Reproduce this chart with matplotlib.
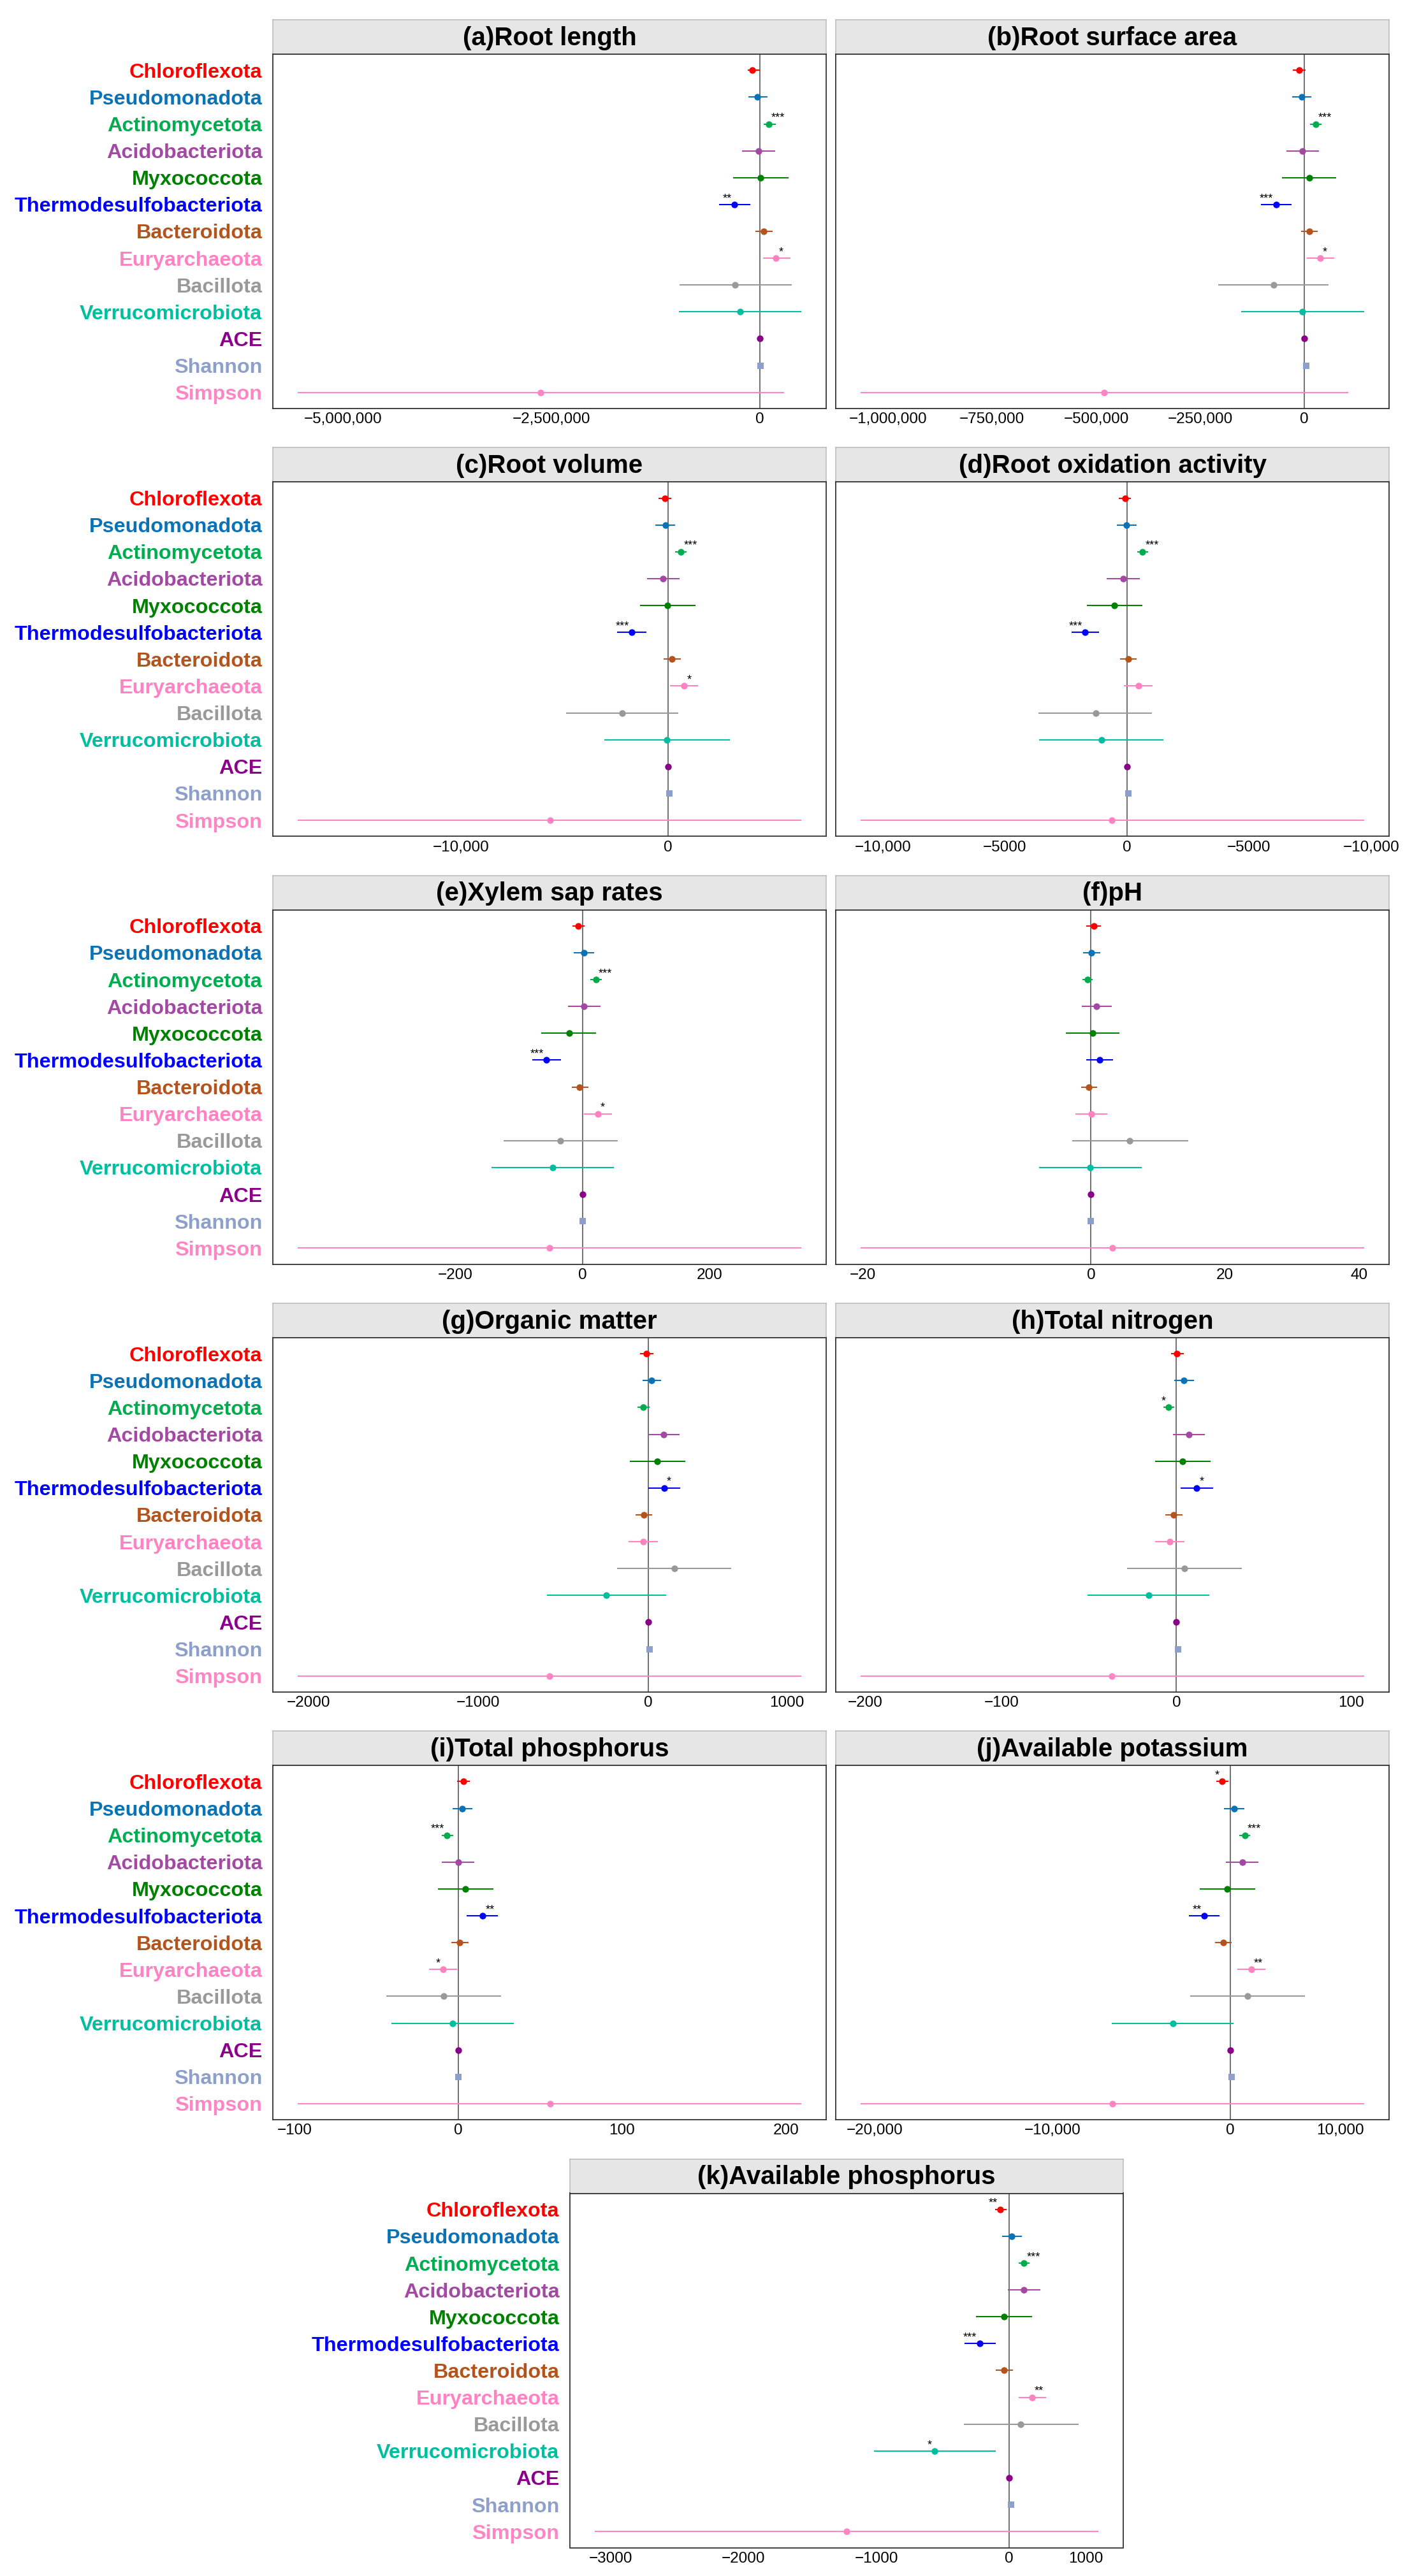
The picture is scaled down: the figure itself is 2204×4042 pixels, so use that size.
import matplotlib
matplotlib.use("Agg")
import matplotlib.pyplot as plt
from matplotlib import font_manager

# row order, top to bottom
taxa = ["Chloroflexota", "Pseudomonadota", "Actinomycetota", "Acidobacteriota",
        "Myxococcota", "Thermodesulfobacteriota", "Bacteroidota", "Euryarchaeota",
        "Bacillota", "Verrucomicrobiota", "ACE", "Shannon", "Simpson"]
taxa_colors = ["#FF0000", "#0A72B5", "#00AD4E", "#A349A4", "#008000", "#0000FF",
               "#B4531C", "#FF82C3", "#999999", "#00BE9E", "#8B008B", "#8DA0CB", "#FF85C5"]

# (a) Root length
rl_est = [-0.089e6, -0.025e6, 0.108e6, -0.013e6, 0.013e6, -0.300e6, 0.051e6, 0.197e6, -0.293e6, -0.236e6, 0.0, 0.010e6, -2.63e6]
rl_lo = [-0.140e6, -0.134e6, 0.051e6, -0.210e6, -0.318e6, -0.484e6, -0.051e6, 0.038e6, -0.962e6, -0.968e6, 0.0, 0.005e6, -5.54e6]
rl_hi = [0.0, 0.096e6, 0.191e6, 0.185e6, 0.344e6, -0.115e6, 0.153e6, 0.369e6, 0.382e6, 0.497e6, 0.0, 0.015e6, 0.293e6]
rl_sig = ["", "", "***", "", "", "**", "", "*", "", "", "", "", ""]

# (b) Root surface area
rsa_est = [-12e3, -7e3, 27e3, -5e3, 12e3, -68e3, 12e3, 38e3, -74e3, -5e3, 0, 4e3, -481e3]
rsa_lo = [-27e3, -30e3, 13e3, -43e3, -54e3, -104e3, -8e3, 6e3, -207e3, -151e3, 0, 3e3, -1065e3]
rsa_hi = [3e3, 16e3, 41e3, 35e3, 77e3, -31e3, 32e3, 71e3, 58e3, 143e3, 0, 5e3, 105e3]
rsa_sig = ["", "", "***", "", "", "***", "", "*", "", "", "", "", ""]

# (c) Root volume
rv_est = [-160, -120, 630, -230, -20, -1750, 190, 780, -2220, -50, 0, 70, -5710]
rv_lo = [-450, -610, 360, -1000, -1350, -2450, -210, 100, -4930, -3070, 0, 50, -17900]
rv_hi = [160, 360, 900, 570, 1340, -1040, 610, 1460, 500, 2990, 0, 90, 6440]
rv_sig = ["", "", "***", "", "", "***", "", "*", "", "", "", "", ""]

# (d) Root oxidation activity
roa_est = [-90, -20, 640, -150, -520, -1720, 60, 470, -1290, -1050, 0, 50, -620]
roa_lo = [-350, -420, 420, -830, -1650, -2270, -290, -120, -3620, -3590, 0, 30, -10900]
roa_hi = [170, 390, 860, 530, 620, -1140, 390, 1050, 1030, 1500, 0, 70, 9700]
roa_sig = ["", "", "***", "", "", "***", "", "", "", "", "", "", ""]

# (e) Xylem sap rates
xs_est = [-6.8, 2.3, 21.5, 2.8, -20.9, -56.5, -4.5, 24.3, -34.5, -46.9, 0, 0.6, -51.4]
xs_lo = [-15.8, -13.6, 13.0, -22.6, -64.4, -79.1, -16.9, 2.8, -123.7, -142.9, 0, 0.3, -447.5]
xs_hi = [3.4, 18.1, 30.5, 28.8, 22.0, -33.3, 9.0, 46.9, 55.4, 49.7, 0, 0.9, 344.1]
xs_sig = ["", "", "***", "", "", "***", "", "*", "", "", "", "", ""]

# (f) pH
ph_est = [0.4, 0.05, -0.5, 0.8, 0.3, 1.3, -0.3, 0.05, 5.8, -0.1, 0, 0, 3.2]
ph_lo = [-0.7, -1.2, -1.3, -1.4, -3.7, -0.7, -1.5, -2.3, -2.8, -7.7, 0, -0.05, -34.3]
ph_hi = [1.5, 1.4, 0.3, 3.1, 4.2, 3.3, 0.9, 2.4, 14.5, 7.6, 0, 0.05, 40.7]
ph_sig = [""] * 13

# (g) Organic matter
om_est = [-11, 21, -28, 91, 55, 95, -25, -30, 155, -246, 0, 10, -580]
om_lo = [-49, -34, -62, 0, -108, 2, -74, -114, -182, -596, 0, 8, -2064]
om_hi = [32, 78, 11, 186, 220, 190, 25, 57, 492, 106, 0, 12, 902]
om_sig = ["", "", "", "", "", "*", "", "", "", "", "", "", ""]

# (h) Total nitrogen
tn_est = [0.2, 4.2, -4.4, 7.0, 3.6, 11.6, -1.5, -3.8, 4.7, -15.9, 0, 0.8, -36.8]
tn_lo = [-3.2, -1.3, -7.6, -2.1, -12.3, 2.5, -6.3, -12.1, -28.1, -50.7, 0, 0.6, -180.5]
tn_hi = [4.2, 10.0, -1.1, 16.3, 19.7, 20.9, 3.4, 4.7, 37.4, 19.0, 0, 1.0, 107.3]
tn_sig = ["", "", "*", "", "", "*", "", "", "", "", "", "", ""]

# (i) Total phosphorus
tp_est = [3.3, 2.4, -6.8, 0, 4.4, 14.9, 0.9, -9.2, -9.0, -3.5, 0, 0, 55.9]
tp_lo = [-0.7, -3.5, -10.1, -9.9, -12.5, 5.3, -4.4, -18.0, -43.9, -40.8, 0, -0.2, -97.8]
tp_hi = [7.2, 8.6, -3.1, 9.9, 21.3, 24.3, 6.1, -0.7, 26.3, 33.8, 0, 0.2, 209.2]
tp_sig = ["", "", "***", "", "", "**", "", "*", "", "", "", "", ""]

# (j) Available potassium
ak_est = [-456, 228, 830, 685, -166, -1452, -394, 1183, 975, -3216, 0, 104, -6619]
ak_lo = [-788, -332, 519, -249, -1722, -2324, -851, 415, -2241, -6640, 0, 90, -20771]
ak_hi = [-83, 809, 1141, 1598, 1432, -581, 104, 1992, 4212, 208, 0, 118, 7532]
ak_sig = ["*", "", "***", "", "", "**", "", "**", "", "", "", "", ""]

# (k) Available phosphorus
ap_est = [-66, 19, 110, 110, -39, -224, -39, 171, 86, -561, 0, 11, -1224]
ap_lo = [-108, -55, 69, -11, -251, -337, -102, 69, -342, -1019, 0, 8, -3116]
ap_hi = [-19, 97, 152, 235, 171, -102, 28, 276, 522, -102, 0, 14, 668]
ap_sig = ["**", "", "***", "", "", "***", "", "**", "", "*", "", "", ""]

# x tick positions / labels as printed on the figure
rl_ticks, rl_labels = [-5e6, -2.5e6, 0], ["\u22125,000,000", "\u22122,500,000", "0"]
rsa_ticks, rsa_labels = [-1e6, -750e3, -500e3, -250e3, 0], ["\u22121,000,000", "\u2212750,000", "\u2212500,000", "\u2212250,000", "0"]
rv_ticks, rv_labels = [-10000, 0], ["\u221210,000", "0"]
roa_ticks, roa_labels = [-10000, -5000, 0, 5000, 10000], ["\u221210,000", "\u22125000", "0", "\u22125000", "\u221210,000"]
xs_ticks, xs_labels = [-200, 0, 200], ["\u2212200", "0", "200"]
ph_ticks, ph_labels = [-34, 0, 20, 40], ["\u221220", "0", "20", "40"]
om_ticks, om_labels = [-2000, -1000, 0, 820], ["\u22122000", "\u22121000", "0", "1000"]
tn_ticks, tn_labels = [-178, -100, 0, 100], ["\u2212200", "\u2212100", "0", "100"]
tp_ticks, tp_labels = [-100, 0, 100, 200], ["\u2212100", "0", "100", "200"]
ak_ticks, ak_labels = [-20000, -10000, 0, 6200], ["\u221220,000", "\u221210,000", "0", "10,000"]
ap_ticks, ap_labels = [-3000, -2000, -1000, 0, 574], ["\u22123000", "\u22122000", "\u22121000", "0", "1000"]

panels = [
    ("(a)Root length", rl_est, rl_lo, rl_hi, rl_sig, rl_ticks, rl_labels),
    ("(b)Root surface area", rsa_est, rsa_lo, rsa_hi, rsa_sig, rsa_ticks, rsa_labels),
    ("(c)Root volume", rv_est, rv_lo, rv_hi, rv_sig, rv_ticks, rv_labels),
    ("(d)Root oxidation activity", roa_est, roa_lo, roa_hi, roa_sig, roa_ticks, roa_labels),
    ("(e)Xylem sap rates", xs_est, xs_lo, xs_hi, xs_sig, xs_ticks, xs_labels),
    ("(f)pH", ph_est, ph_lo, ph_hi, ph_sig, ph_ticks, ph_labels),
    ("(g)Organic matter", om_est, om_lo, om_hi, om_sig, om_ticks, om_labels),
    ("(h)Total nitrogen", tn_est, tn_lo, tn_hi, tn_sig, tn_ticks, tn_labels),
    ("(i)Total phosphorus", tp_est, tp_lo, tp_hi, tp_sig, tp_ticks, tp_labels),
    ("(j)Available potassium", ak_est, ak_lo, ak_hi, ak_sig, ak_ticks, ak_labels),
    ("(k)Available phosphorus", ap_est, ap_lo, ap_hi, ap_sig, ap_ticks, ap_labels),
]

plt.rcParams['font.family'] = ['Liberation Sans', 'DejaVu Sans']

# narrower face for the tick numbers if it is installed
installed = {f.name for f in font_manager.fontManager.ttflist}
if 'Liberation Sans Narrow' in installed:
    tick_family, tick_size = 'Liberation Sans Narrow', 20
else:
    tick_family, tick_size = 'Liberation Sans', 17.5

W, H = 2204, 4042
fig = plt.figure(figsize=(W / 100, H / 100), dpi=100)


def box(left, top, width, height):
    return [left / W, 1 - (top + height) / H, width / W, height / H]


strip_h = 54
axes_h = 556
row_pitch = 671.3
first_top = 31
panel_w = 868

for n, (title, est, lo, hi, sig, ticks, labels) in enumerate(panels):
    row = n // 2
    top = first_top + row * row_pitch
    if n == 10:
        left = 894
    elif n % 2 == 0:
        left = 428
    else:
        left = 1311
    show_y = (n % 2 == 0)

    # strip
    sax = fig.add_axes(box(left, top, panel_w, strip_h))
    sax.set_facecolor("#E5E6E5")
    sax.set_xticks([])
    sax.set_yticks([])
    for sp in sax.spines.values():
        sp.set_color("#BDBDBD")
        sp.set_linewidth(1.2)
    sax.text(0.5, 0.47, title, transform=sax.transAxes, ha='center', va='center',
             fontsize=29, fontweight='bold')

    ax = fig.add_axes(box(left, top + strip_h, panel_w, axes_h))
    ax.axvline(0, color="#666666", lw=1.3, zorder=1)
    for i in range(len(taxa)):
        mk = 's' if taxa[i] == "Shannon" else 'o'
        ms = 6.5 if taxa[i] == "Shannon" else 7.5
        ax.errorbar(est[i], i, xerr=[[est[i] - lo[i]], [hi[i] - est[i]]], fmt=mk,
                    color=taxa_colors[i], ecolor=taxa_colors[i], elinewidth=1.5,
                    capsize=3.1, capthick=1.5, markersize=ms, markeredgewidth=0,
                    zorder=3)
        if sig[i]:
            right = est[i] > 0
            ax.annotate(sig[i], xy=(est[i], i), xytext=(3 if right else -3, 3.5),
                        textcoords='offset points', ha='left' if right else 'right',
                        va='baseline', fontsize=13, color='black', zorder=4)

    span = max(hi) - min(lo)
    ax.set_xlim(min(lo) - 0.05 * span, max(hi) + 0.05 * span)
    ax.set_ylim(len(taxa) - 1 + 0.6, -0.6)
    ax.set_xticks(ticks)
    ax.set_xticklabels(labels, fontsize=tick_size, family=tick_family)
    ax.set_yticks(range(len(taxa)))
    if show_y:
        ax.set_yticklabels(taxa, fontsize=23.3, fontweight='bold')
        for lab, c in zip(ax.get_yticklabels(), taxa_colors):
            lab.set_color(c)
    else:
        ax.set_yticklabels([])
    ax.tick_params(axis='x', length=0, pad=4.5)
    ax.tick_params(axis='y', length=0, pad=12)
    for sp in ax.spines.values():
        sp.set_color("#333333")
        sp.set_linewidth(1.3)

fig.savefig("out.png", dpi=100, facecolor='white')
